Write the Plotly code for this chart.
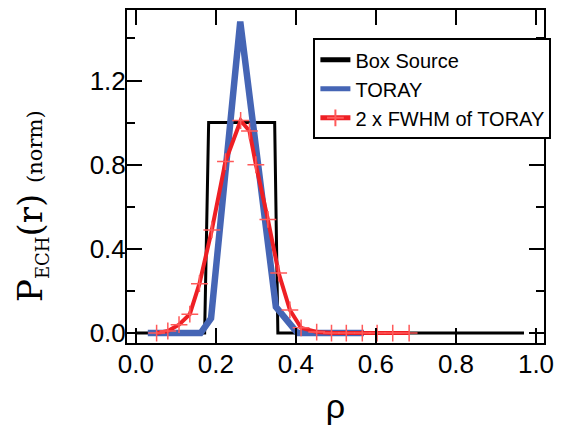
import plotly.graph_objects as go

# Box Source (black)
box_x = [0.0, 0.172, 0.182, 0.347, 0.355, 0.97]
box_y = [0.0, 0.0, 1.0, 1.0, 0.0, 0.0]

# TORAY (blue)
toray_x = [0.03, 0.162, 0.188, 0.261, 0.350, 0.404, 0.57]
toray_y = [0.0, 0.0, 0.07, 1.48, 0.125, 0.0, 0.0]

# 2 x FWHM of TORAY (red)
fwhm_x = [0.052, 0.080, 0.108, 0.135, 0.159, 0.190, 0.224, 0.262, 0.284, 0.300,
          0.330, 0.357, 0.385, 0.413, 0.452, 0.489, 0.526, 0.566, 0.603, 0.642, 0.683]
fwhm_y = [0.0, 0.01, 0.04, 0.09, 0.235, 0.49, 0.815, 1.01, 0.96, 0.80,
          0.54, 0.285, 0.11, 0.025, 0.005, 0.0, 0.0, 0.0, 0.0, 0.0, 0.0]

x_ticks = [0.0, 0.2, 0.4, 0.6, 0.8, 1.0]
x_tick_text = ["0.0", "0.2", "0.4", "0.6", "0.8", "1.0"]
y_ticks = [0.0, 0.4, 0.8, 1.2]
y_tick_text = ["0.0", "0.4", "0.8", "1.2"]

fig = go.Figure()
fig.add_trace(go.Scatter(x=box_x, y=box_y, mode="lines", name="Box Source",
                         line=dict(color="black", width=3)))
fig.add_trace(go.Scatter(x=toray_x, y=toray_y, mode="lines", name="TORAY",
                         line=dict(color="#4565b5", width=6.5)))
fig.add_trace(go.Scatter(x=fwhm_x, y=fwhm_y, mode="lines+markers", name="2 x FWHM of TORAY",
                         line=dict(color="#ee1f24", width=4),
                         marker=dict(symbol="cross-thin", size=12,
                                     line=dict(color="#ff5a5a", width=1.5))))

axis_common = dict(showline=True, linecolor="black", linewidth=2, mirror="ticks",
                   ticks="inside", ticklen=15, tickwidth=2, tickcolor="black",
                   showgrid=False, zeroline=False,
                   tickfont=dict(family="Liberation Sans, Arial", size=26, color="black"))

fig.update_xaxes(range=[-0.022, 1.02], tickmode="array", tickvals=x_ticks, ticktext=x_tick_text,
                 ticklabelstandoff=-3,
                 title=dict(text="ρ", font=dict(family="Liberation Sans, Arial", size=34, color="black"),
                            standoff=16),
                 **axis_common)
fig.update_yaxes(range=[-0.047, 1.535], tickmode="array", tickvals=y_ticks, ticktext=y_tick_text,
                 ticklabelstandoff=-6,
                 minor=dict(tickmode="linear", dtick=0.2, tick0=0, ticks="inside", ticklen=8,
                            tickwidth=2, tickcolor="black", showgrid=False),
                 **axis_common)

fig.add_annotation(
    text="P<sub><span style='font-size:18px'>ECH</span></sub>(r) <span style='font-size:21px'>(norm)</span>",
    xref="paper", yref="paper", x=-0.229, y=0.41, xanchor="center", yanchor="middle",
    textangle=-90, showarrow=False,
    font=dict(family="DejaVu Serif, Liberation Serif", size=34, color="black"))

fig.update_layout(
    template="simple_white",
    width=562, height=434,
    margin=dict(l=127, r=12, t=8, b=91),
    plot_bgcolor="white", paper_bgcolor="white",
    legend=dict(x=0.447, y=0.915, xanchor="left", yanchor="top",
                bgcolor="white", bordercolor="black", borderwidth=2,
                font=dict(family="Liberation Sans, Arial", size=20, color="black"),
                tracegroupgap=0, itemsizing="constant"),
)

fig.write_html("out.html")
